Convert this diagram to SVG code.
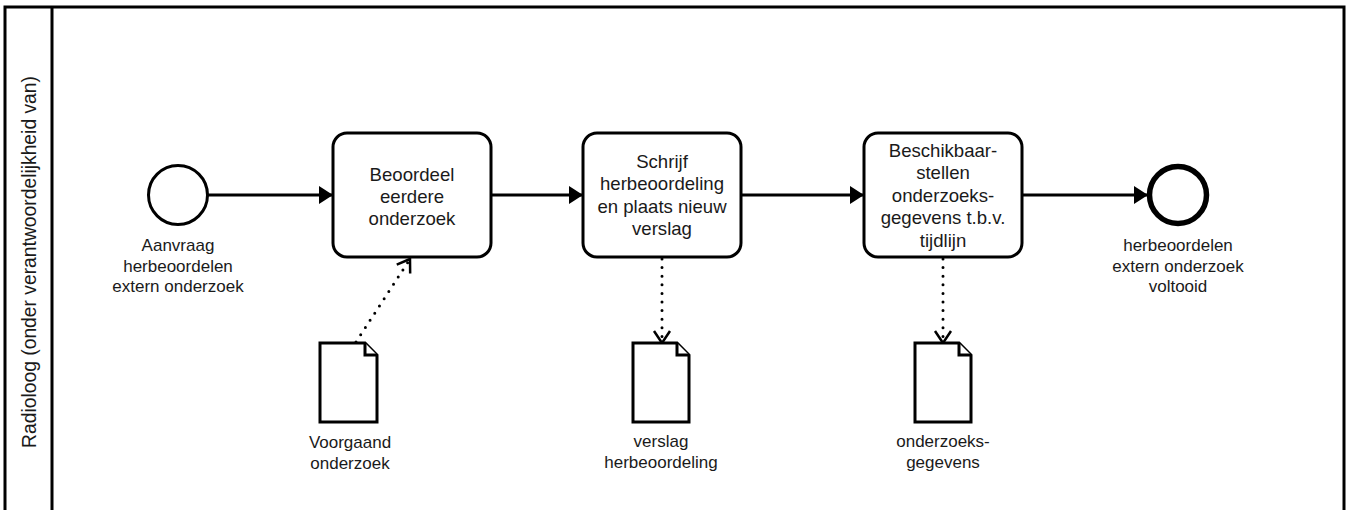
<svg xmlns="http://www.w3.org/2000/svg" width="1350" height="510" viewBox="0 0 1350 510">
<style>
  .lane { fill: #ffffff; stroke: #000000; stroke-width: 3; }
  .task { fill: #ffffff; stroke: #000000; stroke-width: 3; }
  .start { fill: #ffffff; stroke: #000000; stroke-width: 3; }
  .end { fill: #ffffff; stroke: #000000; stroke-width: 5.5; }
  .doc { fill: #ffffff; stroke: #000000; stroke-width: 3; stroke-linejoin: miter; }
  .flow { fill: none; stroke: #000000; stroke-width: 3; }
  .assoc { fill: none; stroke: #000000; stroke-width: 3; stroke-dasharray: 0 8.6; stroke-linecap: round; }
  .tt { font-family: "Liberation Sans", Arial, sans-serif; font-size: 18.6px; fill: #1a1a1a; text-anchor: middle; }
  .lbl { font-family: "Liberation Sans", Arial, sans-serif; font-size: 17px; fill: #1a1a1a; text-anchor: middle; }
</style>
<defs>
  <marker id="filled" markerUnits="userSpaceOnUse" markerWidth="15" markerHeight="19" refX="14" refY="9" orient="auto" overflow="visible">
    <path d="M0,0 L14,9 L0,18 z" fill="#000000"/>
  </marker>
  <marker id="open" markerUnits="userSpaceOnUse" markerWidth="14" markerHeight="18" refX="12" refY="8" orient="auto" overflow="visible">
    <path d="M0,0 L12,8 L0,16" fill="none" stroke="#000000" stroke-width="2.5"/>
  </marker>
</defs>
<rect width="1350" height="510" fill="#ffffff"/>

<g id="pool">
  <rect class="lane" x="5" y="7" width="1339" height="510"/>
  <line x1="52" y1="7" x2="52" y2="510" stroke="#000000" stroke-width="3"/>
  <text class="tt" style="font-size:19.3px" transform="translate(29,262) rotate(-90)" x="0" y="0" dominant-baseline="central">Radioloog (onder verantwoordelijkheid van)</text>
</g>

<g id="connectors">
  <line class="flow" x1="208" y1="195" x2="333" y2="195" marker-end="url(#filled)"/>
  <line class="flow" x1="491" y1="195" x2="583" y2="195" marker-end="url(#filled)"/>
  <line class="flow" x1="741" y1="195" x2="864" y2="195" marker-end="url(#filled)"/>
  <line class="flow" x1="1022" y1="195" x2="1148" y2="195" marker-end="url(#filled)"/>
  <line class="assoc" x1="356" y1="342" x2="410" y2="259" marker-end="url(#open)"/>
  <line class="assoc" x1="662" y1="259" x2="662" y2="343" marker-end="url(#open)"/>
  <line class="assoc" x1="943" y1="259" x2="943" y2="343" marker-end="url(#open)"/>
</g>

<g id="start-event">
  <circle class="start" cx="178" cy="195" r="29.5"/>
  <text class="lbl" x="178" y="251">Aanvraag</text>
  <text class="lbl" x="178" y="271.5">herbeoordelen</text>
  <text class="lbl" x="178" y="292">extern onderzoek</text>
</g>

<g id="task-beoordeel">
  <rect class="task" x="333" y="133" width="158" height="124" rx="14" ry="14"/>
  <text class="tt" x="412" y="181">Beoordeel</text>
  <text class="tt" x="412" y="203">eerdere</text>
  <text class="tt" x="412" y="225">onderzoek</text>
</g>

<g id="task-schrijf">
  <rect class="task" x="583" y="133" width="158" height="124" rx="14" ry="14"/>
  <text class="tt" x="662" y="168">Schrijf</text>
  <text class="tt" x="662" y="190.3">herbeoordeling</text>
  <text class="tt" x="662" y="212.6">en plaats nieuw</text>
  <text class="tt" x="662" y="235">verslag</text>
</g>

<g id="task-beschikbaar">
  <rect class="task" x="864" y="133" width="158" height="124" rx="14" ry="14"/>
  <text class="tt" x="943" y="156.5">Beschikbaar-</text>
  <text class="tt" x="943" y="179">stellen</text>
  <text class="tt" x="943" y="201.5">onderzoeks-</text>
  <text class="tt" x="943" y="224">gegevens t.b.v.</text>
  <text class="tt" x="943" y="246.5">tijdlijn</text>
</g>

<g id="end-event">
  <circle class="end" cx="1178" cy="195" r="28.5"/>
  <text class="lbl" x="1178" y="251">herbeoordelen</text>
  <text class="lbl" x="1178" y="271.5">extern onderzoek</text>
  <text class="lbl" x="1178" y="292">voltooid</text>
</g>

<g id="doc-voorgaand">
  <path class="doc" d="M320,343 L365,343 L377,355 L377,422 L320,422 Z"/>
  <path class="doc" d="M365,343 L365,355 L377,355"/>
  <text class="lbl" x="350" y="448">Voorgaand</text>
  <text class="lbl" x="350" y="468.5">onderzoek</text>
</g>

<g id="doc-verslag">
  <path class="doc" d="M633,343 L677,343 L689,355 L689,422 L633,422 Z"/>
  <path class="doc" d="M677,343 L677,355 L689,355"/>
  <text class="lbl" x="661" y="447">verslag</text>
  <text class="lbl" x="661" y="467.5">herbeoordeling</text>
</g>

<g id="doc-gegevens">
  <path class="doc" d="M915,343 L959,343 L971,355 L971,422 L915,422 Z"/>
  <path class="doc" d="M959,343 L959,355 L971,355"/>
  <text class="lbl" x="943" y="447">onderzoeks-</text>
  <text class="lbl" x="943" y="467.5">gegevens</text>
</g>
</svg>
